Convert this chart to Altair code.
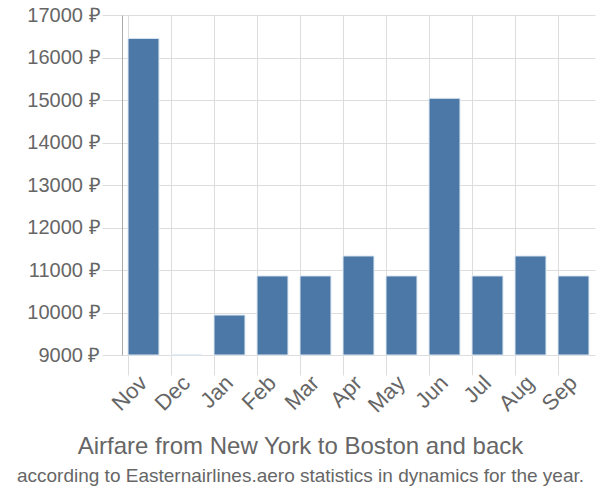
import altair as alt
import pandas as pd

months = ["Nov", "Dec", "Jan", "Feb", "Mar", "Apr", "May", "Jun", "Jul", "Aug", "Sep"]
prices = [16450, 9000, 9940, 10860, 10860, 11330, 10860, 15040, 10860, 11330, 10860]
y_ticks = [9000, 10000, 11000, 12000, 13000, 14000, 15000, 16000, 17000]

df = pd.DataFrame({"month": months, "price": prices})

FONT = "Liberation Sans"
GRAY = "#666666"

chart = alt.Chart(df).mark_bar(color="#4c78a8", stroke="#dce6f0", strokeWidth=1).encode(
    x=alt.X("month:N", sort=months, title=None,
            scale=alt.Scale(paddingInner=0.28, paddingOuter=0.14),
            axis=alt.Axis(labelAngle=-45, labelAlign="right", labelBaseline="middle",
                          labelFontSize=22, labelColor=GRAY, labelFont=FONT,
                          bandPosition=0, grid=True, gridColor="#dddddd",
                          ticks=True, tickSize=20, tickColor="#dddddd",
                          domain=False, labelPadding=4)),
    y=alt.Y("price:Q", title=None,
            scale=alt.Scale(domain=[9000, 17000], zero=False, nice=False),
            axis=alt.Axis(values=y_ticks, labelExpr="datum.value + ' ₽'",
                          labelFontSize=20, labelColor=GRAY, labelFont=FONT,
                          gridColor="#dddddd", tickColor="#dddddd", tickSize=20,
                          domain=True, domainColor="#aaaaaa", labelPadding=2)),
    y2=alt.datum(9000),
).properties(
    width=473, height=340,
    title=alt.TitleParams(
        text="Airfare from New York to Boston and back",
        subtitle="according to Easternairlines.aero statistics in dynamics for the year.",
        orient="bottom", anchor="middle", frame="group", dx=-58,
        font=FONT, fontSize=24, fontWeight="normal", color=GRAY,
        subtitleFont=FONT, subtitleFontSize=19,
        subtitleColor=GRAY, offset=19, subtitlePadding=8,
    ),
    autosize=alt.AutoSizeParams(type="none"),
    padding={"left": 122, "top": 15, "right": 5, "bottom": 145},
).configure_view(stroke=None)

chart.save("out.html", embed_options={"renderer": "svg", "actions": False})
